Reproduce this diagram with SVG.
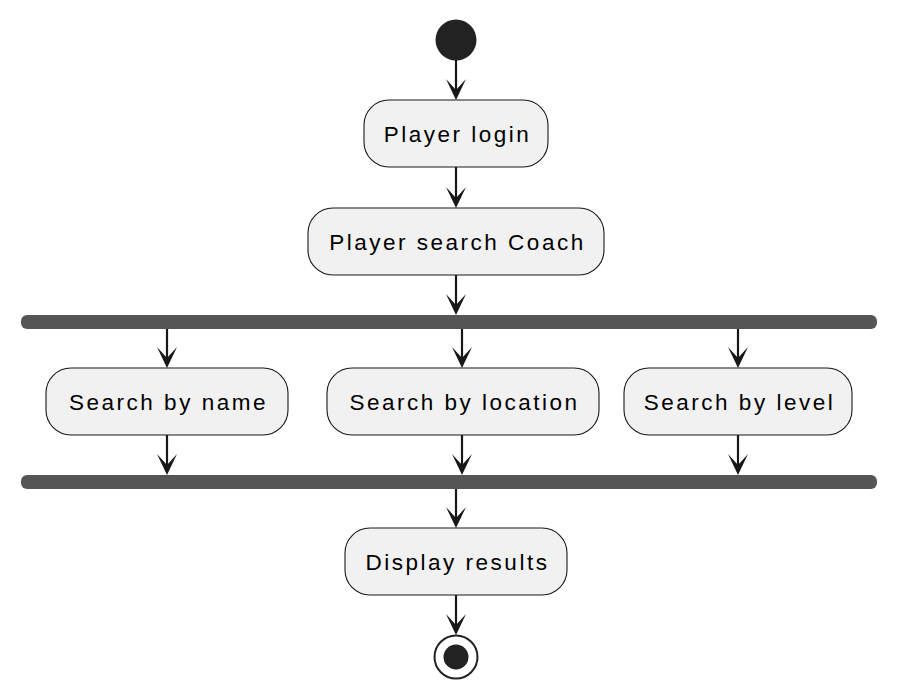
<svg xmlns="http://www.w3.org/2000/svg" width="898" height="700" viewBox="0 0 898 700">
<style>
.box{fill:#F1F1F1;stroke:#181818;stroke-width:1.1}
.t{font-family:"Liberation Sans",Arial,sans-serif;font-size:22.5px;letter-spacing:2.5px;fill:#000;text-anchor:middle}
.bar{fill:#555555}
.ln{stroke:#181818;stroke-width:2.2;fill:none}
.ah{fill:#181818}
</style>
<defs>
<path id="arr" d="M0,0 L-10,-21 L0,-10 L10,-21 Z"/>
</defs>
<rect width="898" height="700" fill="#FFFFFF"/>
<g id="start"><circle cx="456" cy="40" r="20.5" fill="#222222"/></g>
<g id="n1"><rect class="box" x="364" y="100" width="184" height="67" rx="25"/><text class="t" x="457.5" y="141.5">Player login</text></g>
<g id="n2"><rect class="box" x="308" y="208" width="296" height="67" rx="25"/><text class="t" x="457.5" y="249.5">Player search Coach</text></g>
<g id="fork"><rect class="bar" x="21" y="315" width="856" height="14" rx="6"/></g>
<g id="n3"><rect class="box" x="46" y="368" width="242" height="67" rx="25"/><text class="t" x="168.5" y="409.5">Search by name</text></g>
<g id="n4"><rect class="box" x="327" y="368" width="272" height="67" rx="25"/><text class="t" x="464.5" y="409.5">Search by location</text></g>
<g id="n5"><rect class="box" x="624" y="368" width="228" height="67" rx="25"/><text class="t" x="739.5" y="409.5">Search by level</text></g>
<g id="join"><rect class="bar" x="21" y="475" width="856" height="14" rx="6"/></g>
<g id="n6"><rect class="box" x="345" y="528" width="222" height="67" rx="25"/><text class="t" x="457.5" y="569.5">Display results</text></g>
<g id="end"><circle cx="456" cy="657" r="21.5" fill="#FFFFFF" stroke="#222222" stroke-width="2"/><circle cx="456" cy="657" r="12.5" fill="#222222"/></g>
<g id="connectors">
<line class="ln" x1="456" y1="60" x2="456" y2="92"/><use href="#arr" class="ah" x="456" y="100"/>
<line class="ln" x1="456" y1="167" x2="456" y2="200"/><use href="#arr" class="ah" x="456" y="208"/>
<line class="ln" x1="456" y1="275" x2="456" y2="307"/><use href="#arr" class="ah" x="456" y="315"/>
<line class="ln" x1="167" y1="329" x2="167" y2="360"/><use href="#arr" class="ah" x="167" y="368"/>
<line class="ln" x1="462" y1="329" x2="462" y2="360"/><use href="#arr" class="ah" x="462" y="368"/>
<line class="ln" x1="738" y1="329" x2="738" y2="360"/><use href="#arr" class="ah" x="738" y="368"/>
<line class="ln" x1="167" y1="435" x2="167" y2="467"/><use href="#arr" class="ah" x="167" y="475"/>
<line class="ln" x1="462" y1="435" x2="462" y2="467"/><use href="#arr" class="ah" x="462" y="475"/>
<line class="ln" x1="738" y1="435" x2="738" y2="467"/><use href="#arr" class="ah" x="738" y="475"/>
<line class="ln" x1="456" y1="489" x2="456" y2="520"/><use href="#arr" class="ah" x="456" y="528"/>
<line class="ln" x1="456" y1="595" x2="456" y2="627"/><use href="#arr" class="ah" x="456" y="635"/>
</g>
</svg>
